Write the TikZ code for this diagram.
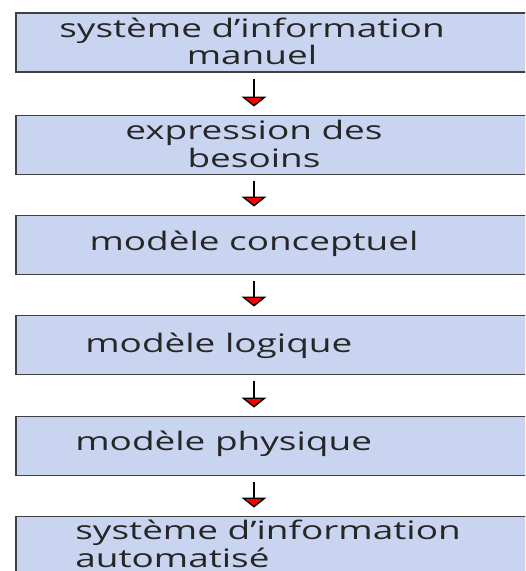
\documentclass[tikz,border=0pt]{standalone}
\usepackage{fontspec}
\setmainfont[FakeStretch=1.45]{Open Sans}
\usetikzlibrary{arrows.meta,positioning}
\definecolor{bleu}{RGB}{201,213,240}

\begin{document}
\begin{tikzpicture}[x=0.02cm, y=-0.02cm,
  etape/.style={draw=black!75, line width=1.1pt, fill=bleu, minimum width=10.6cm, minimum height=1.18cm, inner sep=0pt},
  texte/.style={font=\fontsize{14.5}{13.6}\selectfont, text=black!85, inner sep=0pt},
  fleche/.style={-{Triangle[width=0.5cm,length=0.2cm,fill=red]}, line width=0.8pt, shorten <=0.12cm, shorten >=0.16cm}]
\useasboundingbox (0,0) rectangle (525,571);
\clip (0,0) rectangle (525,571);

\coordinate (axe) at (254,0);
\node[etape] (b1) at (281,42.5) {};
\node[etape] (b2) at (281,145) {};
\node[etape] (b3) at (281,245) {};
\node[etape] (b4) at (281,345) {};
\node[etape] (b5) at (281,446) {};
\node[etape] (b6) at (281,546) {};

\node[texte, align=center, anchor=base] (t1) at (252,65) {système d’information\\manuel};
\node[texte, align=center, anchor=base] (t2) at (254,167) {expression des\\besoins};
\node[texte, anchor=base] (t3) at (254,250) {modèle conceptuel};
\node[texte, anchor=base west] (t4) at (85,352) {modèle logique};
\node[texte, anchor=base west] (t5) at (75,450) {modèle physique};
\node[texte, align=left, anchor=base west] (t6) at (75,567) {système d’information\\automatisé};

\foreach \i/\j in {1/2,2/3,3/4,4/5,5/6}
  \draw[fleche] (b\i.south -| axe) -- (b\j.north -| axe);
\end{tikzpicture}
\end{document}
